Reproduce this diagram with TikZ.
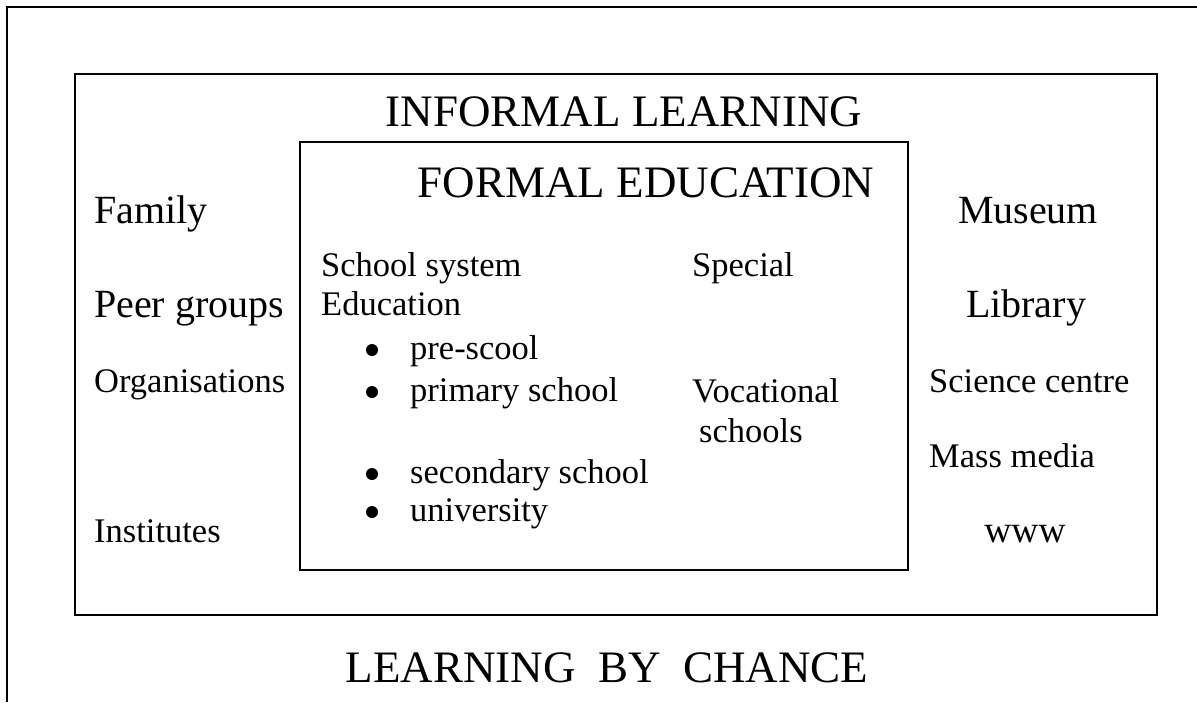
\documentclass[tikz,border=0pt]{standalone}
\usepackage{fontspec}
\setmainfont{Liberation Serif}
\begin{document}
\begin{tikzpicture}[x=1pt,y=-1pt,
  frame/.style={draw=black,line width=1.6pt},
  ttl/.style={inner sep=0pt,anchor=base,font=\fontsize{45}{54}\selectfont},
  midlbl/.style={inner sep=0pt,anchor=base west,font=\fontsize{40}{48}\selectfont},
  midctr/.style={inner sep=0pt,anchor=base,font=\fontsize{40}{48}\selectfont},
  smlbl/.style={inner sep=0pt,anchor=base west,font=\fontsize{34.5}{40}\selectfont},
  smctr/.style={inner sep=0pt,anchor=base,font=\fontsize{37.5}{44}\selectfont},
  dot/.style={circle,fill=black,inner sep=0pt,minimum size=12pt}]
\useasboundingbox (0,0) rectangle (1197,702);

% open outer frame: top and left sides only
\coordinate (ftr) at (1197,7);
\coordinate (ftl) at (7,7);
\coordinate (fbl) at (7,702);
\draw[frame] (ftr) -- (ftl) -- (fbl);

% informal learning box and formal education box
\draw[frame] (75,74) rectangle (1157,615);
\draw[frame] (300,142) rectangle (908,570);

% titles
\node[ttl] (informal) at (624,126) {INFORMAL LEARNING};
\node[ttl] (formal) at (646,197) {FORMAL EDUCATION};
\node[ttl] (chance) at (607,682) {LEARNING\ \ BY\ \ CHANCE};

% left column
\node[midlbl] (family) at (94,223) {Family};
\node[midlbl] (peer) at (94,317) {Peer groups};
\node[smlbl] (org) at (94,392) {Organisations};
\node[smlbl] (inst) at (94,542) {Institutes};

% right column
\node[midctr] (museum) at (1028,223) {Museum};
\node[midctr] (library) at (1026,317) {Library};
\node[smlbl] (science) at (929,392) {Science centre};
\node[smlbl] (media) at (929,467) {Mass media};
\node[smctr] (www) at (1025,542) {www};

% school system list
\node[smlbl] (school) at (321,276) {School system};
\node[smlbl] (educ) at (321,315) {Education};
\node[smlbl] (pre) at (410,359) {pre-scool};
\node[smlbl] (prim) at (410,401) {primary school};
\node[smlbl] (sec) at (410,483) {secondary school};
\node[smlbl] (uni) at (410,521) {university};
\node[dot] (b1) at (372,350) {};
\node[dot] (b2) at (372,392) {};
\node[dot] (b3) at (372,474) {};
\node[dot] (b4) at (372,512) {};

% special education
\node[smlbl] (special) at (692,276) {Special};
\node[smlbl] (voc) at (692,402) {Vocational};
\node[smlbl] (vocs) at (699,442) {schools};
\end{tikzpicture}
\end{document}
